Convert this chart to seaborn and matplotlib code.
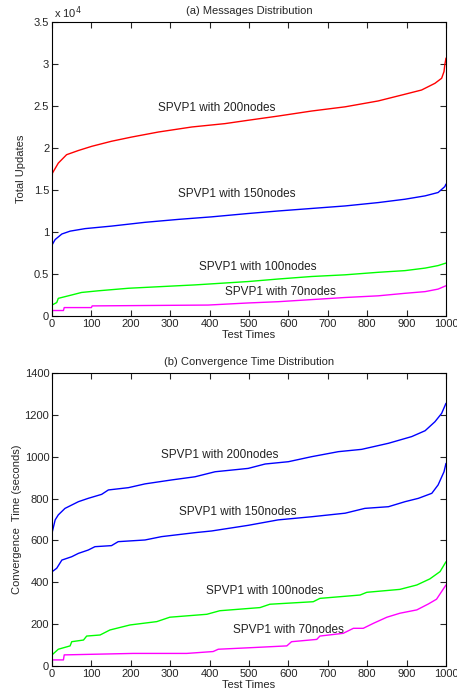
import matplotlib
matplotlib.use('Agg')
import matplotlib.pyplot as plt
import seaborn as sns
import pandas as pd

# (a) total updates, values in units of 1e4
red200_x = [0, 1, 16, 37, 67, 101, 151, 202, 270, 355, 439, 498, 574, 659, 744, 828, 896, 938, 972, 989, 995, 997, 1000]
red200_y = [1.56, 1.70, 1.82, 1.92, 1.97, 2.02, 2.08, 2.13, 2.19, 2.25, 2.29, 2.33, 2.38, 2.44, 2.49, 2.56, 2.64, 2.69, 2.77, 2.83, 2.91, 2.99, 3.07]
blue150_x = [0, 8, 25, 46, 84, 151, 236, 321, 405, 498, 574, 659, 744, 828, 896, 947, 980, 997, 1000]
blue150_y = [0.845, 0.91, 0.976, 1.01, 1.04, 1.07, 1.115, 1.15, 1.18, 1.22, 1.25, 1.28, 1.31, 1.35, 1.39, 1.43, 1.47, 1.54, 1.57]
green100_x = [0, 12, 16, 33, 50, 75, 118, 194, 278, 363, 498, 574, 659, 744, 828, 896, 947, 980, 1000]
green100_y = [0.13, 0.16, 0.21, 0.23, 0.25, 0.28, 0.30, 0.33, 0.35, 0.37, 0.41, 0.44, 0.47, 0.49, 0.52, 0.54, 0.57, 0.60, 0.63]
mag70_x = [0, 29, 31, 100, 102, 396, 498, 574, 659, 744, 828, 896, 947, 980, 1000]
mag70_y = [0.065, 0.065, 0.10, 0.10, 0.12, 0.13, 0.155, 0.17, 0.195, 0.22, 0.24, 0.27, 0.29, 0.32, 0.36]

# (b) convergence time (seconds)
ct200_x = [0, 8, 16, 33, 67, 92, 126, 143, 194, 236, 304, 363, 414, 498, 541, 600, 659, 727, 786, 854, 913, 947, 972, 989, 1000]
ct200_y = [635, 698, 722, 753, 785, 801, 820, 841, 852, 870, 889, 904, 928, 944, 965, 976, 1000, 1024, 1035, 1064, 1096, 1124, 1167, 1207, 1255]
ct150_x = [0, 12, 25, 50, 67, 92, 109, 151, 168, 236, 278, 363, 405, 498, 574, 659, 744, 794, 854, 896, 930, 964, 980, 995, 1000]
ct150_y = [450, 467, 506, 522, 538, 554, 570, 575, 594, 602, 618, 637, 645, 672, 698, 713, 730, 753, 761, 785, 801, 825, 865, 928, 968]
ct100_x = [0, 16, 46, 50, 80, 88, 122, 147, 198, 266, 299, 393, 426, 528, 553, 663, 680, 782, 799, 883, 926, 959, 985, 1000]
ct100_y = [53, 80, 96, 116, 124, 143, 148, 172, 196, 212, 233, 247, 264, 279, 295, 307, 323, 339, 352, 366, 387, 416, 451, 498]
ct70_x = [0, 29, 31, 105, 206, 342, 409, 422, 511, 596, 608, 672, 680, 739, 765, 790, 816, 850, 883, 926, 955, 976, 1000]
ct70_y = [29, 29, 53, 56, 60, 60, 69, 80, 88, 96, 116, 127, 143, 156, 180, 180, 204, 233, 252, 268, 296, 319, 387]

labels = ['SPVP1 with 200nodes', 'SPVP1 with 150nodes', 'SPVP1 with 100nodes', 'SPVP1 with 70nodes']
top_pos = [(419, 2.48), (470, 1.45), (523, 0.58), (581, 0.29)]
bot_pos = [(426, 1008), (472, 736), (541, 358), (599, 172)]

sns.set_style('ticks')
plt.rcParams['font.family'] = ['Liberation Sans', 'DejaVu Sans']
plt.rcParams['xtick.direction'] = 'in'
plt.rcParams['ytick.direction'] = 'in'
plt.rcParams['xtick.top'] = True
plt.rcParams['ytick.right'] = True


def make_df(series):
    rows = []
    for name, xs, ys in series:
        for x, y in zip(xs, ys):
            rows.append((name, x, y))
    return pd.DataFrame(rows, columns=['series', 'x', 'y'])


df_a = make_df([('200', red200_x, red200_y), ('150', blue150_x, blue150_y),
                ('100', green100_x, green100_y), ('70', mag70_x, mag70_y)])
df_a['y'] = df_a['y'] * 1e4
df_b = make_df([('200', ct200_x, ct200_y), ('150', ct150_x, ct150_y),
                ('100', ct100_x, ct100_y), ('70', ct70_x, ct70_y)])

fig = plt.figure(figsize=(4.57, 7.0), dpi=100)
ax1 = fig.add_axes([0.1138, 0.5486, 0.8621, 0.42])
ax2 = fig.add_axes([0.1138, 0.0486, 0.8621, 0.4186])

pal_a = {'200': '#ff0000', '150': '#0000ff', '100': '#00ff00', '70': '#ff00ff'}
pal_b = {'200': '#0000ff', '150': '#0000ff', '100': '#00ff00', '70': '#ff00ff'}

sns.lineplot(data=df_a, x='x', y='y', hue='series', palette=pal_a, estimator=None,
             legend=False, linewidth=1, ax=ax1)
sns.lineplot(data=df_b, x='x', y='y', hue='series', palette=pal_b, estimator=None,
             legend=False, linewidth=1, ax=ax2)

fs = 8
ax1.set_xlim(0, 1000)
ax1.set_ylim(0, 35000)
ax1.set_xticks(range(0, 1001, 100))
ax1.set_yticks(range(0, 35001, 5000))
ax1.set_yticklabels(['0', '0.5', '1', '1.5', '2', '2.5', '3', '3.5'])
ax1.text(0.005, 1.005, r'x 10$^4$', transform=ax1.transAxes, ha='left', va='bottom', fontsize=fs)
ax1.set_title('(a) Messages Distribution', fontsize=fs, pad=6)
ax1.set_ylabel('Total Updates', fontsize=fs, labelpad=6)
ax1.set_xlabel('Test Times', fontsize=fs, labelpad=1)
for lab, (x, y) in zip(labels, top_pos):
    ax1.text(x * 1, y * 1e4, lab, ha='center', va='center', fontsize=8.5, color='#222222')

ax2.set_xlim(0, 1000)
ax2.set_ylim(0, 1400)
ax2.set_xticks(range(0, 1001, 100))
ax2.set_yticks(range(0, 1401, 200))
ax2.set_title('(b) Convergence Time Distribution', fontsize=fs, pad=6)
ax2.set_ylabel('Convergence  Time (seconds)', fontsize=fs, labelpad=2)
ax2.set_xlabel('Test Times', fontsize=fs, labelpad=1)
for lab, (x, y) in zip(labels, bot_pos):
    ax2.text(x, y, lab, ha='center', va='center', fontsize=8.5, color='#222222')

for ax in (ax1, ax2):
    ax.tick_params(labelsize=fs, length=4, width=0.8, pad=2)
    for s in ax.spines.values():
        s.set_linewidth(0.8)
        s.set_color('black')

fig.savefig('out.png', dpi=100)
